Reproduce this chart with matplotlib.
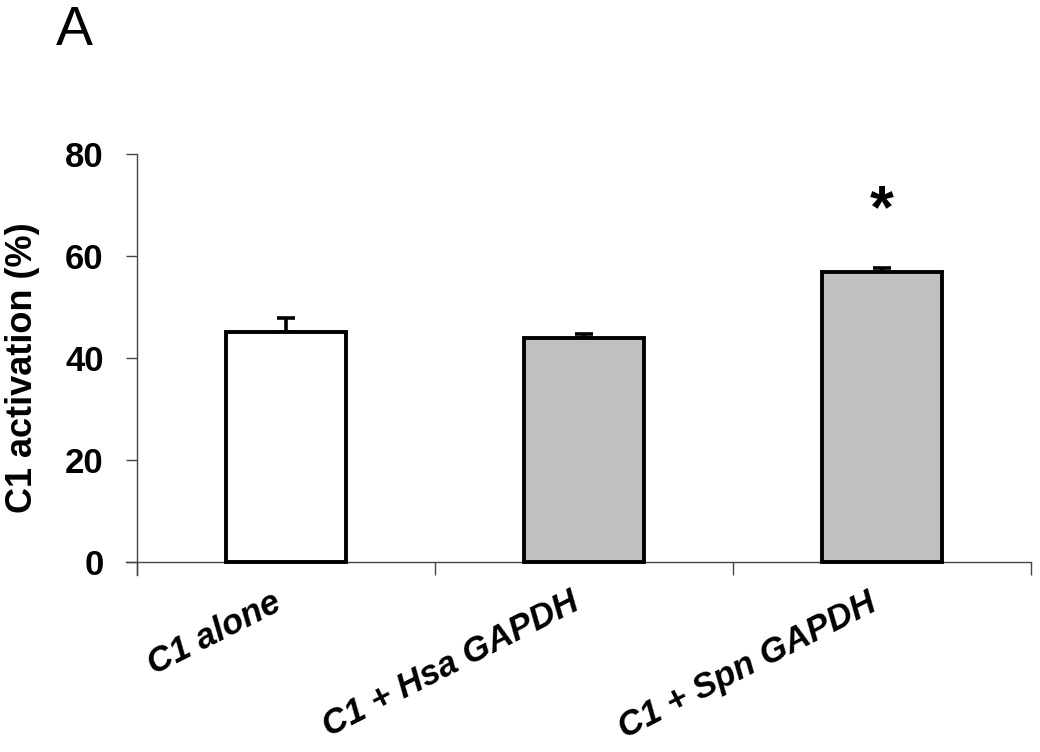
import numpy as np
import matplotlib
matplotlib.use("Agg")
import matplotlib.pyplot as plt

plt.rcParams['font.family'] = ['Liberation Sans', 'DejaVu Sans']

# data
groups = ["C1 alone", "C1 + Hsa GAPDH", "C1 + Spn GAPDH"]
activation = [45.2, 43.9, 56.9]
err = [2.7, 0.9, 0.7]
fills = ["white", "#c0c0c0", "#c0c0c0"]
signif = ["", "", "*"]
yticks = [0, 20, 40, 60, 80]

fig = plt.figure(figsize=(10.4, 7.52), dpi=100)
ax = fig.add_axes([126 / 1040, 1 - 575 / 752, 905 / 1040, (575 - 154) / 752])

x = np.arange(len(groups))
ax.bar(x, activation, width=0.4, color=fills, edgecolor="black",
       linewidth=2.8, zorder=3)
ax.errorbar(x, activation, yerr=[np.zeros(len(err)), err], fmt="none",
            ecolor="black", elinewidth=2.6, capsize=6.5, capthick=2.6, zorder=2)

for xi, v, e, s in zip(x, activation, err, signif):
    if s:
        ax.text(xi, v + e + 11, s, ha="center", va="center",
                fontsize=44, fontweight="bold")

ax.set_xlim(-0.537, 2.5)
ax.set_ylim(-2.5, 80)

for side in ["top", "right"]:
    ax.spines[side].set_visible(False)
ax.spines["left"].set_position(("data", -0.5))
ax.spines["bottom"].set_position(("data", 0))
for side in ["left", "bottom"]:
    ax.spines[side].set_color("#444444")
    ax.spines[side].set_linewidth(1.0)

ax.set_yticks(yticks)
ax.set_yticklabels([str(t) for t in yticks], fontsize=25, fontweight="bold")
ax.tick_params(axis="y", direction="out", length=8, width=1.0,
               color="#444444", pad=16)

ax.set_xticks([-0.5, 0.5, 1.5, 2.5])
ax.set_xticklabels([])
ax.tick_params(axis="x", which="major", direction="out", length=9,
               width=1.0, color="#444444")
ax.set_xticks(x, minor=True)
ax.set_xticklabels(groups, minor=True, rotation=27, ha="right", va="top",
                   fontsize=25, fontweight="bold", fontstyle="italic")
ax.tick_params(axis="x", which="minor", length=0, pad=17)

ax.set_ylabel("C1 activation (%)", fontsize=26, fontweight="bold")
ax.yaxis.set_label_coords((40 - 126) / 905, (575 - 368) / 421)

fig.text(74 / 1040, 1 - 31 / 752, "A", fontsize=40, ha="center", va="center")

fig.savefig("out.png", dpi=100)
